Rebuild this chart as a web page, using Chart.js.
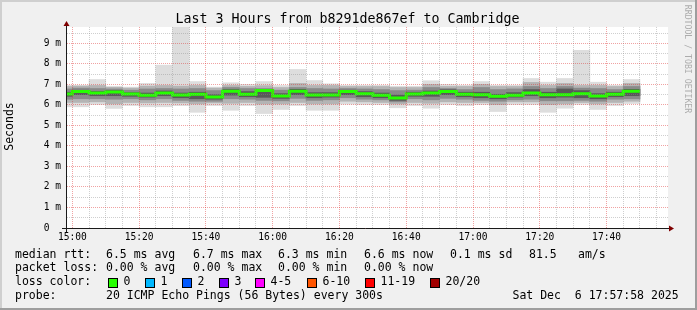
<!DOCTYPE html>
<html>
<head>
<meta charset="utf-8">
<script src="https://cdn.jsdelivr.net/npm/chart.js@4"></script>
<style>
  html, body { margin: 0; padding: 0; background: #f0f0f0; }
  canvas { display: block; }
</style>
</head>
<body>
<canvas id="chart" width="697" height="310"></canvas>
<script>
// 5-minute steps, labelled by the end of each step
const binEnd = ['15:00','15:05','15:10','15:15','15:20','15:25','15:30','15:35','15:40','15:45',
                '15:50','15:55','16:00','16:05','16:10','16:15','16:20','16:25','16:30','16:35',
                '16:40','16:45','16:50','16:55','17:00','17:05','17:10','17:15','17:20','17:25',
                '17:30','17:35','17:40','17:45','17:50'];

// median rtt (ms)
const median = [6.53, 6.65, 6.58, 6.63, 6.53, 6.47, 6.58, 6.48, 6.52, 6.39,
                6.67, 6.52, 6.70, 6.43, 6.67, 6.48, 6.48, 6.65, 6.55, 6.47,
                6.34, 6.53, 6.58, 6.65, 6.52, 6.50, 6.42, 6.47, 6.58, 6.50,
                6.50, 6.55, 6.43, 6.52, 6.67];

// smoke: slowest / fastest ping of each step (ms)
const pingMax = [6.96, 6.96, 7.24, 6.91, 6.87, 7.05, 7.94, 9.90, 7.14, 6.87,
                 7.08, 7.00, 7.14, 6.95, 7.73, 7.19, 7.03, 6.96, 6.96, 6.96,
                 6.91, 6.91, 7.18, 7.00, 6.96, 7.14, 6.96, 6.96, 7.29, 7.11,
                 7.29, 8.66, 7.11, 6.96, 7.24];
const pingMin = [5.91, 5.91, 6.02, 5.83, 5.97, 5.91, 5.91, 5.97, 5.64, 5.97,
                 5.74, 5.97, 5.58, 5.78, 5.97, 5.74, 5.74, 6.04, 6.02, 6.02,
                 5.86, 5.97, 5.84, 6.02, 5.97, 6.02, 5.68, 6.02, 6.02, 5.64,
                 5.84, 6.02, 5.78, 5.97, 6.07];

// inner smoke layers (ms)
const upper2 = [6.90, 6.92, 6.95, 6.86, 6.82, 6.92, 6.95, 6.92, 6.95, 6.82,
                6.95, 6.90, 6.94, 6.85, 7.05, 6.95, 6.95, 6.90, 6.90, 6.90,
                6.85, 6.85, 7.00, 6.90, 6.90, 7.00, 6.90, 6.90, 7.10, 6.95,
                7.05, 6.95, 6.95, 6.90, 7.05];
const upper3 = [6.78, 6.82, 6.80, 6.78, 6.72, 6.78, 6.80, 6.78, 6.80, 6.70,
                6.85, 6.80, 6.80, 6.72, 6.85, 6.80, 6.78, 6.80, 6.78, 6.75,
                6.70, 6.72, 6.85, 6.80, 6.75, 6.85, 6.75, 6.78, 6.90, 6.80,
                6.90, 6.82, 6.80, 6.75, 6.90];
const upper4 = [6.62, 6.72, 6.66, 6.70, 6.60, 6.58, 6.68, 6.58, 6.62, 6.50,
                6.75, 6.65, 6.74, 6.55, 6.76, 6.60, 6.60, 6.72, 6.65, 6.58,
                6.48, 6.62, 6.68, 6.74, 6.62, 6.62, 6.52, 6.60, 6.75, 6.62,
                6.78, 6.70, 6.55, 6.62, 6.76];
const lower4 = [6.42, 6.50, 6.45, 6.45, 6.42, 6.38, 6.45, 6.35, 6.30, 6.28,
                6.48, 6.40, 6.37, 6.32, 6.50, 6.35, 6.38, 6.50, 6.40, 6.35,
                6.22, 6.42, 6.42, 6.50, 6.40, 6.35, 6.30, 6.38, 6.45, 6.35,
                6.38, 6.35, 6.30, 6.40, 6.45];
const lower3 = [6.28, 6.30, 6.30, 6.28, 6.30, 6.25, 6.30, 6.22, 6.18, 6.18,
                6.30, 6.28, 6.22, 6.20, 6.32, 6.22, 6.25, 6.35, 6.28, 6.25,
                6.15, 6.30, 6.25, 6.32, 6.28, 6.22, 6.18, 6.25, 6.28, 6.20,
                6.20, 6.22, 6.18, 6.28, 6.30];
const lower2 = [6.12, 6.12, 6.15, 6.05, 6.12, 6.10, 6.12, 6.10, 6.05, 6.10,
                6.08, 6.12, 6.04, 6.05, 6.12, 6.05, 6.05, 6.18, 6.15, 6.12,
                6.05, 6.12, 6.08, 6.15, 6.12, 6.12, 6.02, 6.15, 6.15, 6.02,
                6.05, 6.12, 6.05, 6.12, 6.18];

const xTickLabels = ['15:00','15:20','15:40','16:00','16:20','16:40','17:00','17:20','17:40'];
const yTickLabels = ['0  ','1 m','2 m','3 m','4 m','5 m','6 m','7 m','8 m','9 m'];
const xRange = ['14:58:24', '17:58:24'];
const yMax = 9.8;

const lossColors = ['#26ff00','#00b8ff','#0059ff','#7e00ff','#ff00ff','#ff5500','#ff0000','#a10000'];
const lossLabels = ['0','1','2','3','4-5','6-10','11-19','20/20'];

const MONO = "'DejaVu Sans Mono', monospace";
Chart.defaults.font.family = MONO;

const toMin = s => {
  const p = s.split(':').map(Number);
  return p[0] * 60 + p[1] + (p[2] || 0) / 60;
};

const bands = [
  { lo: pingMin, hi: pingMax, color: '#dddddd' },
  { lo: lower2, hi: upper2, color: '#b4b4b4' },
  { lo: lower3, hi: upper3, color: '#8a8a8a' },
  { lo: lower4, hi: upper4, color: '#595959' }
];

const datasets = bands.map((b, k) => ({
  type: 'bar',
  data: binEnd.map((t, i) => ({ x: toMin(t) - 2.5, y: [b.lo[i], b.hi[i]] })),
  backgroundColor: b.color,
  borderWidth: 0,
  grouped: false,
  barPercentage: 1,
  categoryPercentage: 1,
  order: 10 - k
}));

const last = binEnd.length - 1;
datasets.push({
  type: 'line',
  data: binEnd.map((t, i) => ({ x: toMin(t) - 5, y: median[i] }))
    .concat([{ x: toMin(binEnd[last]), y: median[last] }]),
  borderColor: lossColors[0],
  borderWidth: 3,
  stepped: true,
  pointRadius: 0,
  fill: false,
  borderCapStyle: 'butt',
  borderJoinStyle: 'miter',
  order: 0
});

const GRID = 'rgba(140,140,140,0.42)';
const MGRID = 'rgba(222,48,48,0.45)';

const xMajor = xTickLabels.map(toMin);
const yMajor = yTickLabels.map((s, i) => i);

const rrdFrame = {
  id: 'rrdFrame',
  beforeDraw(chart) {
    const { ctx, chartArea: a } = chart;
    ctx.save();
    ctx.fillStyle = '#f0f0f0';
    ctx.fillRect(0, 0, chart.width, chart.height);
    ctx.fillStyle = '#ffffff';
    ctx.fillRect(a.left, a.top, a.right - a.left, a.bottom - a.top);
    ctx.restore();
  },
  afterDraw(chart) {
    const { ctx, chartArea: a } = chart;
    const W = chart.width, H = chart.height;
    ctx.save();

    // axes
    ctx.strokeStyle = '#1a1a1a';
    ctx.lineWidth = 1;
    ctx.beginPath();
    ctx.moveTo(a.left - 0.5, a.bottom + 4);
    ctx.lineTo(a.left - 0.5, a.top - 2);
    ctx.moveTo(a.left - 5, a.bottom + 0.5);
    ctx.lineTo(a.right + 1, a.bottom + 0.5);
    ctx.stroke();
    ctx.fillStyle = '#7f0000';
    ctx.beginPath();
    ctx.moveTo(a.left - 0.5, a.top - 6);
    ctx.lineTo(a.left - 3.5, a.top - 1);
    ctx.lineTo(a.left + 2.5, a.top - 1);
    ctx.closePath();
    ctx.fill();
    ctx.beginPath();
    ctx.moveTo(a.right + 6, a.bottom + 0.5);
    ctx.lineTo(a.right + 1, a.bottom - 2.5);
    ctx.lineTo(a.right + 1, a.bottom + 3.5);
    ctx.closePath();
    ctx.fill();

    // title
    ctx.fillStyle = '#000';
    ctx.textBaseline = 'middle';
    ctx.textAlign = 'center';
    ctx.font = '13.3px ' + MONO;
    ctx.fillText('Last 3 Hours from b8291de867ef to Cambridge', 347.5, 19.5);

    // vertical axis label
    ctx.save();
    ctx.translate(10.5, 126.5);
    ctx.rotate(-Math.PI / 2);
    ctx.font = '11.5px ' + MONO;
    ctx.fillText('Seconds', 0, 0);
    ctx.restore();

    // watermark
    ctx.save();
    ctx.translate(687, 59);
    ctx.rotate(Math.PI / 2);
    ctx.fillStyle = '#acacac';
    ctx.font = '8.2px ' + MONO;
    ctx.fillText('RRDTOOL / TOBI OETIKER', 0, 0);
    ctx.restore();

    // legend
    ctx.textAlign = 'left';
    ctx.font = '11.5px ' + MONO;
    const rows = [
      [255, [[15, 'median rtt:'], [106, '6.5 ms avg'], [193, '6.7 ms max'], [278, '6.3 ms min'],
             [364, '6.6 ms now'], [450, '0.1 ms sd'], [529, '81.5'], [578, 'am/s']]],
      [268.5, [[15, 'packet loss:'], [106, '0.00 % avg'], [193, '0.00 % max'], [278, '0.00 % min'],
               [364, '0.00 % now']]],
      [282.5, [[15, 'loss color:']]],
      [296, [[15, 'probe:'], [106, '20 ICMP Echo Pings (56 Bytes) every 300s'],
             [512.5, 'Sat Dec  6 17:57:58 2025']]]
    ];
    rows.forEach(([y, items]) => items.forEach(([x, s]) => ctx.fillText(s, x, y)));
    const swX = [108.5, 145.5, 182.5, 219.5, 255.5, 307.5, 365.5, 430.5];
    lossColors.forEach((c, i) => {
      ctx.fillStyle = c;
      ctx.fillRect(swX[i], 278.5, 9, 9);
      ctx.strokeStyle = '#000';
      ctx.strokeRect(swX[i], 278.5, 9, 9);
      ctx.fillStyle = '#000';
      ctx.fillText(lossLabels[i], swX[i] + 15, 282.5);
    });

    // 3d frame
    ctx.fillStyle = '#cfcfcf';
    ctx.fillRect(0, 0, W, 2);
    ctx.fillRect(0, 0, 2, H);
    ctx.fillStyle = '#9e9e9e';
    ctx.fillRect(0, H - 2, W, 2);
    ctx.fillRect(W - 2, 0, 2, H);
    ctx.restore();
  }
};

new Chart(document.getElementById('chart'), {
  type: 'bar',
  data: { datasets: datasets },
  options: {
    responsive: false,
    animation: false,
    devicePixelRatio: 1,
    layout: { padding: { left: 0, top: 27, right: 29, bottom: 0 } },
    plugins: { legend: { display: false }, tooltip: { enabled: false } },
    scales: {
      x: {
        type: 'linear',
        min: toMin(xRange[0]),
        max: toMin(xRange[1]),
        offset: false,
        // rrdtool paints its dotted grid over the graph
        grid: {
          offset: false,
          drawTicks: false,
          z: 1,
          color: c => (c.tick && xMajor.includes(c.tick.value)) ? MGRID : GRID
        },
        border: { display: false, dash: [1, 1] },
        afterBuildTicks: scale => {
          const ticks = [];
          for (let t = xMajor[0]; t < scale.max; t += 5) ticks.push({ value: t });
          scale.ticks = ticks;
        },
        afterFit: scale => { scale.height = 82; },
        ticks: {
          autoSkip: false,
          maxRotation: 0,
          padding: 4,
          color: '#000',
          font: { size: 9.6 },
          callback: v => xTickLabels[xMajor.indexOf(v)] || ''
        }
      },
      y: {
        min: 0,
        max: yMax,
        grid: {
          drawTicks: false,
          z: 1,
          color: c => (c.tick && yMajor.includes(c.tick.value)) ? MGRID : GRID
        },
        border: { display: false, dash: [1, 1] },
        afterBuildTicks: scale => {
          const ticks = [];
          yMajor.forEach(v => {
            ticks.push({ value: v });
            if (v + 0.5 < scale.max) ticks.push({ value: v + 0.5 });
          });
          scale.ticks = ticks;
        },
        afterFit: scale => { scale.width = 67; },
        ticks: {
          autoSkip: false,
          padding: 6,
          color: '#000',
          font: { size: 9.6 },
          callback: v => yTickLabels[yMajor.indexOf(v)] || ''
        }
      }
    }
  },
  plugins: [rrdFrame]
});
</script>
</body>
</html>
